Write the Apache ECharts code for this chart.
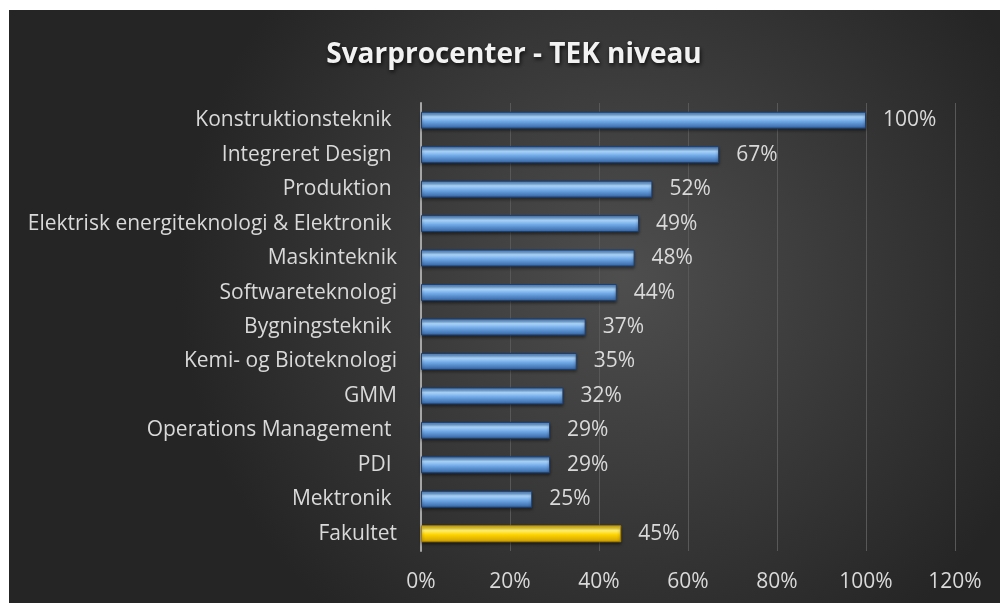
<!DOCTYPE html>
<html>
<head>
<meta charset="utf-8">
<script src="https://cdn.jsdelivr.net/npm/echarts@6/dist/echarts.min.js"></script>
<style>
    html, body { margin: 0; padding: 0; background: #ffffff; }
    #chart { position: absolute; left: 9px; top: 10px; width: 991px; height: 593px; }
</style>
</head>
<body>
<div id="chart"></div>
<script>
let categories = [
    'Konstruktionsteknik ', 'Integreret Design ', 'Produktion ',
    'Elektrisk energiteknologi & Elektronik ', 'Maskinteknik', 'Softwareteknologi',
    'Bygningsteknik ', 'Kemi- og Bioteknologi', 'GMM', 'Operations Management ',
    'PDI ', 'Mektronik ', 'Fakultet'
];
let responseRate = [100, 67, 52, 49, 48, 44, 37, 35, 32, 29, 29, 25, 45];
let highlightCategory = 'Fakultet';

let blueBar = new echarts.graphic.LinearGradient(0, 0, 0, 1, [
    { offset: 0, color: '#4079bf' },
    { offset: 0.3, color: '#acd5fa' },
    { offset: 0.55, color: '#72aae8' },
    { offset: 1, color: '#2f5f9e' }
]);
let yellowBar = new echarts.graphic.LinearGradient(0, 0, 0, 1, [
    { offset: 0, color: '#e0b400' },
    { offset: 0.3, color: '#fff176' },
    { offset: 0.55, color: '#ffd400' },
    { offset: 1, color: '#c99a00' }
]);

let chart = echarts.init(document.getElementById('chart'));

let option = {
    backgroundColor: {
        type: 'radial', x: 0.62, y: 0.45, r: 0.75,
        colorStops: [
            { offset: 0, color: '#4e4e4e' },
            { offset: 1, color: '#252525' }
        ]
    },
    textStyle: { fontFamily: 'Open Sans, sans-serif' },
    title: {
        text: 'Svarprocenter - TEK niveau',
        left: 500,
        top: 26,
        textAlign: 'center',
        textStyle: {
            color: '#f2f2f2',
            fontSize: 28,
            fontWeight: 'bold',
            textShadowColor: 'rgba(0,0,0,0.8)',
            textShadowBlur: 4,
            textShadowOffsetX: 1,
            textShadowOffsetY: 2
        }
    },
    grid: { left: 412, right: 45, top: 93, bottom: 52 },
    xAxis: {
        type: 'value',
        min: 0,
        max: 120,
        interval: 20,
        axisLine: { show: false },
        axisTick: { show: false },
        axisLabel: { color: '#d9d9d9', fontSize: 21, margin: 21, formatter: '{value}%' },
        splitLine: { lineStyle: { color: '#585858', width: 1 } }
    },
    yAxis: {
        type: 'category',
        inverse: true,
        data: categories,
        axisLine: { lineStyle: { color: '#a6a6a6', width: 2 } },
        axisTick: { show: false },
        axisLabel: { color: '#d9d9d9', fontSize: 21, margin: 24 }
    },
    series: [{
        type: 'bar',
        barWidth: 17,
        data: responseRate.map(function (v, i) {
            let isTotal = categories[i] === highlightCategory;
            return {
                value: v,
                itemStyle: {
                    color: isTotal ? yellowBar : blueBar,
                    borderColor: isTotal ? '#a67f00' : '#1e3f6e',
                    borderWidth: 1,
                    shadowColor: 'rgba(0,0,0,0.5)',
                    shadowBlur: 3,
                    shadowOffsetY: 2
                }
            };
        }),
        label: {
            show: true,
            position: 'right',
            distance: 17,
            color: '#d9d9d9',
            fontSize: 21,
            formatter: '{c}%'
        }
    }]
};
chart.setOption(option);
</script>
</body>
</html>
